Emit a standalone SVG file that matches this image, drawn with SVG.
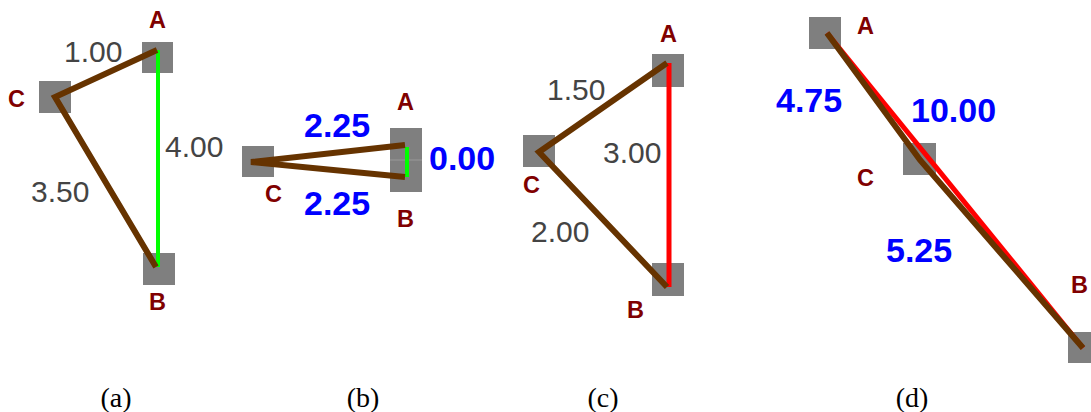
<svg xmlns="http://www.w3.org/2000/svg" width="1091" height="412" viewBox="0 0 1091 412">
<style>
.box{fill:#7f7f7f}
.br{stroke:#663300;stroke-width:6;stroke-linecap:butt;fill:none}
.gr{stroke:#00ff00;stroke-width:4;fill:none}
.rd{stroke:#ff0000;stroke-width:5;fill:none}
.lbl{font-family:"Liberation Sans",Arial,sans-serif;font-weight:bold;font-size:23.5px;fill:#800000}
.num{font-family:"Liberation Sans",Arial,sans-serif;font-size:30px;fill:#444444}
.bnum{font-family:"Liberation Sans",Arial,sans-serif;font-weight:bold;font-size:34px;fill:#0000ff}
.cap{font-family:"Liberation Serif","Times New Roman",serif;font-size:28px;fill:#000000;text-anchor:middle}
</style>
<rect width="1091" height="412" fill="#ffffff"/>
<!-- panel a -->
<g id="a-nodeA"><rect class="box" x="142" y="42" width="31" height="31"/><text class="lbl" x="149" y="28">A</text></g>
<g id="a-nodeC"><rect class="box" x="39" y="81" width="32" height="32"/><text class="lbl" x="8" y="107">C</text></g>
<g id="a-nodeB"><rect class="box" x="143" y="253" width="32" height="32"/><text class="lbl" x="149" y="310">B</text></g>
<g id="a-edges">
<line class="gr" x1="158" y1="50" x2="158" y2="267"/>
<polyline class="br" points="157,50 55,97 156,267"/>
<text class="num" x="64" y="62">1.00</text>
<text class="num" x="165" y="157">4.00</text>
<text class="num" x="31" y="202">3.50</text>
</g>
<!-- panel b -->
<g id="b-nodeC"><rect class="box" x="242" y="146" width="32" height="31"/><text class="lbl" x="265" y="202">C</text></g>
<g id="b-nodeA"><rect class="box" x="390" y="128" width="32" height="32"/><text class="lbl" x="397" y="110">A</text></g>
<g id="b-nodeB"><rect class="box" x="390" y="160" width="32" height="32"/><line x1="390" y1="160" x2="422" y2="160" stroke="#9a9a9a" stroke-width="1"/><text class="lbl" x="397" y="227">B</text></g>
<g id="b-edges">
<line class="gr" x1="407" y1="147" x2="407" y2="177"/>
<polyline class="br" points="405,145 251,162 405,177"/>
<text class="bnum" x="304" y="137">2.25</text>
<text class="bnum" x="304" y="215">2.25</text>
<text class="bnum" x="429" y="170">0.00</text>
</g>
<!-- panel c -->
<g id="c-nodeA"><rect class="box" x="652" y="54" width="32" height="33"/><text class="lbl" x="660" y="42">A</text></g>
<g id="c-nodeC"><rect class="box" x="523" y="135" width="32" height="32"/><text class="lbl" x="523" y="193">C</text></g>
<g id="c-nodeB"><rect class="box" x="652" y="263" width="32" height="33"/><text class="lbl" x="627" y="318">B</text></g>
<g id="c-edges">
<line class="rd" x1="669" y1="63" x2="669" y2="287"/>
<polyline class="br" points="667,63 539,152 667,287"/>
<text class="num" x="547" y="100">1.50</text>
<text class="num" x="603" y="163">3.00</text>
<text class="num" x="531" y="242">2.00</text>
</g>
<!-- panel d -->
<g id="d-nodeA"><rect class="box" x="809" y="17" width="32" height="32"/><text class="lbl" x="857" y="34">A</text></g>
<g id="d-nodeC"><rect class="box" x="903" y="143" width="33" height="32"/><text class="lbl" x="857" y="186">C</text></g>
<g id="d-nodeB"><rect class="box" x="1068" y="332" width="32" height="31"/><text class="lbl" x="1071" y="293">B</text></g>
<g id="d-edges">
<line class="rd" x1="827" y1="33" x2="1083" y2="348"/>
<polyline class="br" points="827,33 920,160 1083,348"/>
<text class="bnum" x="776" y="112">4.75</text>
<text class="bnum" x="911" y="122">10.00</text>
<text class="bnum" x="886" y="262">5.25</text>
</g>
<!-- captions -->
<g id="captions">
<text class="cap" x="116" y="407">(a)</text>
<text class="cap" x="363" y="407">(b)</text>
<text class="cap" x="603" y="407">(c)</text>
<text class="cap" x="912" y="407">(d)</text>
</g>
</svg>
